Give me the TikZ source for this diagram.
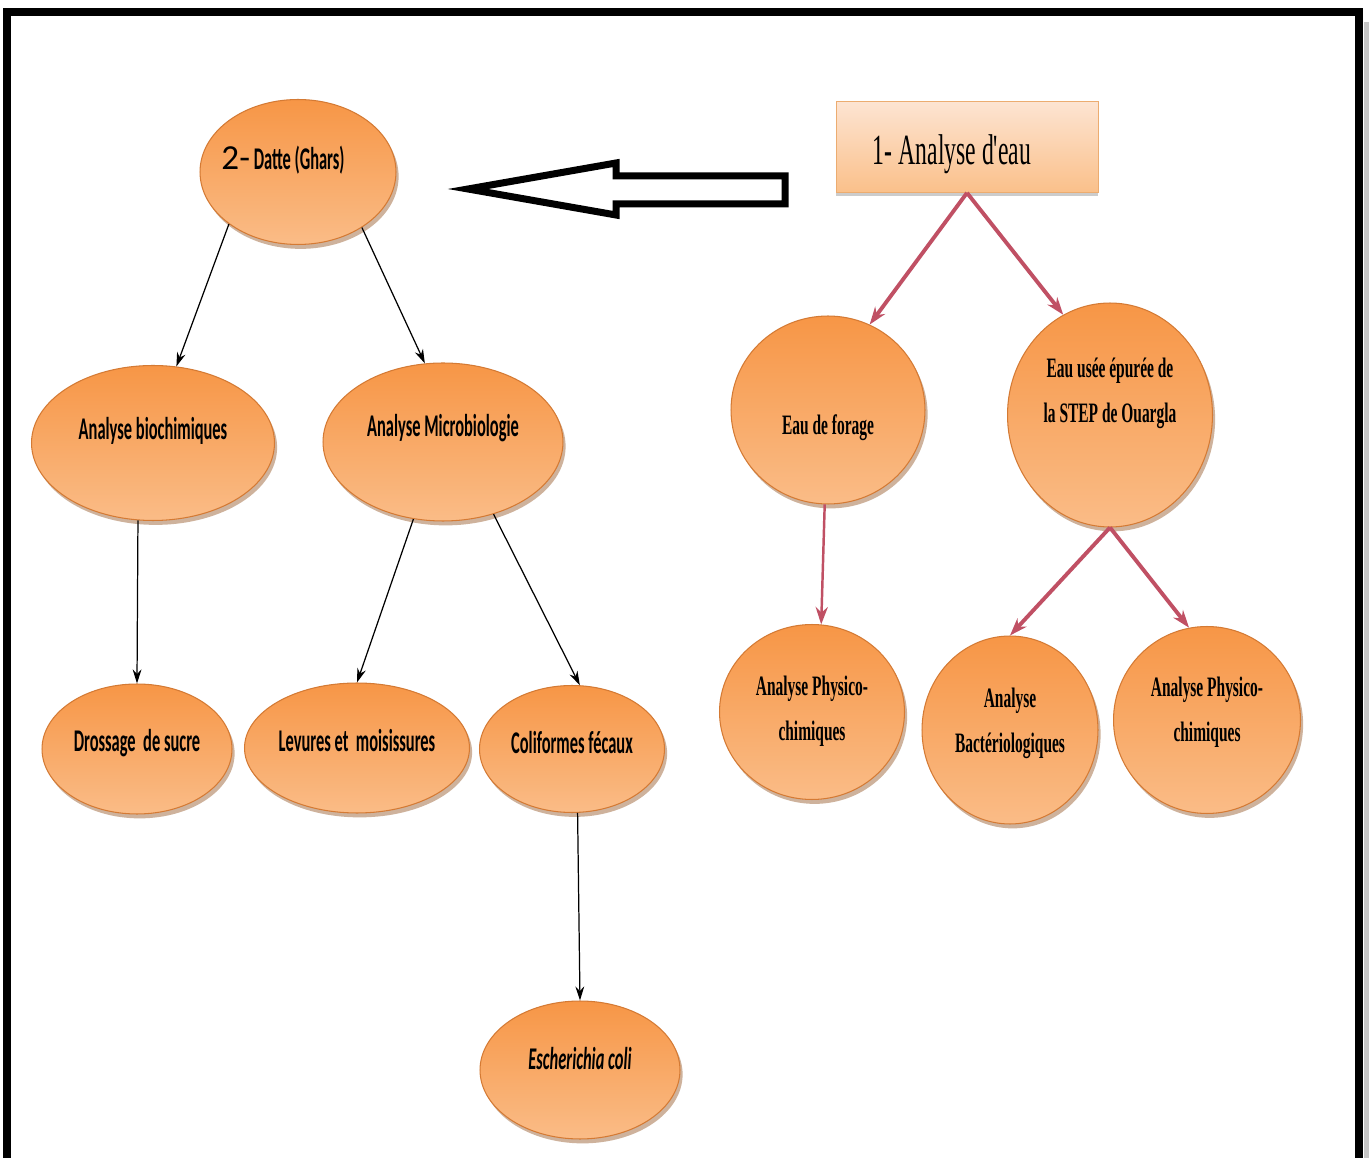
\documentclass[tikz,border=0pt]{standalone}
\usepackage{fontspec}
\usetikzlibrary{shapes.geometric,arrows.meta,shadows}
\newfontfamily\condsans[FakeStretch=0.52]{Carlito}
\newfontfamily\plainsans{Carlito}
\newfontfamily\condserif[FakeStretch=0.55]{Liberation Serif}
\definecolor{orgtop}{RGB}{247,150,70}
\definecolor{orgbot}{RGB}{250,188,135}
\definecolor{orgrim}{RGB}{212,122,52}
\definecolor{peachtop}{RGB}{253,228,210}
\definecolor{peachbot}{RGB}{250,192,138}
\definecolor{peachrim}{RGB}{236,172,112}
\definecolor{wine}{RGB}{192,80,100}
\newcommand{\lift}[2]{\raisebox{#1}[0pt][0pt]{#2}}

\begin{document}
\begin{tikzpicture}[x=0.02cm,y=-0.02cm,
		blob/.style={ellipse,shade,top color=orgtop,bottom color=orgbot,draw=orgrim,line width=0.6pt,inner sep=0pt,
			drop shadow={shadow xshift=1.5pt,shadow yshift=-2.5pt,fill=orgrim!70!black,opacity=0.45},
			font=\condsans\bfseries\fontsize{18}{20}\selectfont,align=center},
		disc/.style={blob,font=\condserif\bfseries\fontsize{16}{24}\selectfont},
		blackarrow/.style={-{Stealth[length=8pt,width=5pt]},line width=0.7pt},
		winearrow/.style={-{Stealth[length=10pt,width=7pt]},line width=2.2pt,draw=wine}]
	\useasboundingbox (0,0) rectangle (1370,1158);
	\fill[white] (0,0) rectangle (1370,1158);
	\draw[gray!45,line width=0.1cm] (1366,22) -- (1366,1170);
	\draw[line width=0.16cm] (7,1170) -- (7,12) -- (1359,12) -- (1359,1170);

	\node (eau) at (967,147) [rectangle,shade,top color=peachtop,bottom color=peachbot,draw=peachrim,
		minimum width=5.24cm,minimum height=1.82cm,
		drop shadow={shadow xshift=0pt,shadow yshift=-2pt,fill=black,opacity=0.2},
		font=\condserif\fontsize{24.5}{26}\selectfont] {\lift{-0.36cm}{\hspace*{-0.6cm}1- Analyse d'eau}};

	\node (datte) at (298,172) [blob,minimum width=3.92cm,minimum height=2.9cm]
		{\lift{0.05cm}{\hspace*{-0.6cm}{\plainsans\mdseries\fontsize{20}{22}\selectfont 2-} Datte (Ghars)}};
	\node (biochim) at (153,443) [blob,minimum width=4.86cm,minimum height=3.1cm] {\lift{0.07cm}{Analyse biochimiques}};
	\node (micro) at (443,442) [blob,minimum width=4.8cm,minimum height=3.16cm] {\lift{0.11cm}{Analyse Microbiologie}};
	\node (sucre) at (137,749) [blob,minimum width=3.8cm,minimum height=2.6cm] {\lift{-0.05cm}{Drossage\ \ de sucre}};
	\node (levures) at (357,748) [blob,minimum width=4.5cm,minimum height=2.6cm] {\lift{-0.07cm}{Levures et\ \ moisissures}};
	\node (colif) at (572,749) [blob,minimum width=3.7cm,minimum height=2.54cm] {\lift{-0.09cm}{Coliformes fécaux}};
	\node (ecoli) at (580,1070) [blob,minimum width=4cm,minimum height=2.76cm] {\lift{0.01cm}{\itshape Escherichia coli}};

	\node (forage) at (828,410) [disc,minimum width=3.88cm,minimum height=3.76cm] {\lift{-0.49cm}{Eau de forage}};
	\node (usee) at (1110,415) [disc,minimum width=4.1cm,minimum height=4.48cm] {\lift{0.32cm}{\begin{tabular}{@{}c@{}}Eau usée épurée de\\[2pt]la STEP de Ouargla\end{tabular}}};
	\node (physa) at (812,712) [disc,minimum width=3.7cm,minimum height=3.5cm] {\lift{-0.1cm}{\begin{tabular}{@{}c@{}}Analyse Physico-\\[2pt]chimiques\end{tabular}}};
	\node (bact) at (1010,730) [disc,minimum width=3.52cm,minimum height=3.76cm] {\lift{0.02cm}{\begin{tabular}{@{}c@{}}Analyse\\[2pt]Bactériologiques\end{tabular}}};
	\node (physb) at (1207,720) [disc,minimum width=3.74cm,minimum height=3.74cm] {\lift{0.04cm}{\begin{tabular}{@{}c@{}}Analyse Physico-\\[2pt]chimiques\end{tabular}}};

	\draw[line width=0.14cm,line join=miter,fill=white] (785,176) -- (616,176) -- (616,163) -- (468,189)
		-- (616,215) -- (616,204) -- (785,204) -- cycle;

	\draw[blackarrow] (datte.217) -- (biochim.73);
	\draw[blackarrow] (datte.319) -- (micro.103);
	\draw[blackarrow] (biochim.259) -- (sucre.north);
	\draw[blackarrow] (micro.249) -- (levures.north);
	\draw[blackarrow] (micro.305) -- (colif.83);
	\draw[blackarrow] (colif.275) -- (ecoli.north);

	\draw[winearrow] (eau.south) -- (forage.64);
	\draw[winearrow] (eau.south) -- (usee.115);
	\draw[winearrow,line width=1.4pt] (forage.268) -- (physa.84);
	\draw[winearrow] (usee.south) -- (bact.north);
	\draw[winearrow] (usee.south) -- (physb.101);
\end{tikzpicture}
\end{document}
